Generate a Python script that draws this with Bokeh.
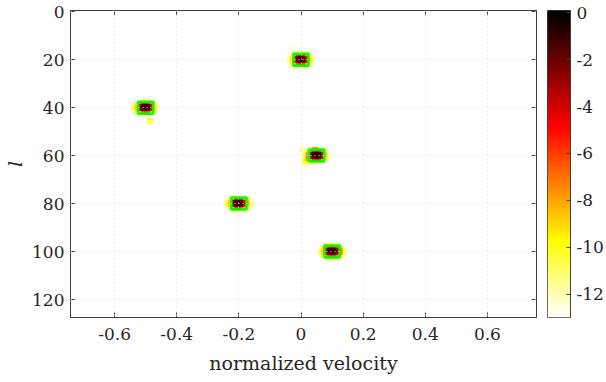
import numpy as np
from bokeh.plotting import figure
from bokeh.layouts import row
from bokeh.models import (Range1d, FixedTicker, LinearAxis, CustomJSTickFormatter, ColumnDataSource,
                          LinearColorMapper)
from bokeh.embed import file_html
from bokeh.resources import INLINE
from bokeh.transform import linear_cmap

# ---------------- data ----------------
dv = 0.01           # velocity bin width
dl = 1              # l bin height
x_ticks = [-0.6, -0.4, -0.2, 0.0, 0.2, 0.4, 0.6]
y_ticks = [0, 20, 40, 60, 80, 100, 120]
cbar_ticks = [-12, -10, -8, -6, -4, -2, 0]
c_low, c_high = -13, 0
c_top = 0.1          # colour-bar axis upper limit

spot_v = [0.0, -0.5, 0.05, -0.2, 0.1]
spot_l = [20, 40, 60, 80, 100]

N = np.nan
# rows: l-3 .. l+3, cols: v-0.04 .. v+0.04
patch_1 = [
    [N, N, -12.0, -11.5, -11.0, -11.5, -12.5, N, N],
    [N, -11.0, -9.0, -6.0, -5.5, -6.0, -9.0, -10.5, N],
    [-12.0, -9.5, -5.0, -2.0, -1.2, -2.0, -5.0, -9.5, -12.0],
    [-11.5, -9.0, -4.5, -1.0, 0.0, -1.0, -4.5, -9.0, -11.5],
    [-12.0, -9.5, -5.0, -2.0, -1.2, -2.0, -5.0, -9.5, -12.0],
    [-12.5, -10.5, -9.0, -6.0, -5.5, -6.0, -9.0, -10.5, N],
    [-12.5, -12.0, -12.0, N, -11.0, -10.5, -11.5, N, N],
]
patch_2 = [
    [N, N, N, -12.0, -11.5, -12.0, N, N, N],
    [N, -10.5, -9.0, -6.5, -6.0, -6.5, -9.0, -11.0, N],
    [-11.0, -9.0, -4.0, -1.8, -1.0, -1.8, -4.5, -9.5, -12.0],
    [-10.5, -8.5, -3.5, -0.8, 0.0, -0.8, -4.0, -9.0, -11.5],
    [-11.0, -9.0, -4.0, -1.8, -1.0, -1.8, -4.5, -9.5, -12.0],
    [-12.0, -10.5, -9.0, -6.5, -6.0, -6.5, -9.0, -11.0, N],
    [N, N, -12.0, -11.5, -11.5, -12.0, N, N, N],
]
patch_3 = [
    [N, N, -12.0, -8.0, -7.5, -11.0, N, N, N],
    [N, -9.5, -8.5, -6.0, -5.5, -6.0, -9.0, -10.5, N],
    [-11.5, -8.0, -3.5, -1.5, -1.0, -1.5, -3.5, -9.0, -12.0],
    [-11.0, -7.5, -3.0, -0.8, 0.0, -0.8, -3.0, -8.5, -11.5],
    [-10.5, -7.5, -3.5, -1.5, -1.0, -1.5, -3.5, -9.0, -12.0],
    [-9.5, -8.0, -8.5, -6.0, -5.5, -6.0, -8.5, -10.5, N],
    [-10.5, -10.0, -11.5, -11.0, -11.0, -11.5, N, N, N],
]
patch_4 = [
    [N, N, N, -12.5, -12.5, -12.5, N, N, N],
    [N, -10.5, -9.0, -6.0, -5.5, -6.5, -9.0, -10.0, N],
    [-11.0, -9.0, -3.0, -1.5, -1.0, -1.8, -4.5, -8.5, -11.5],
    [-10.5, -8.5, -2.5, -0.8, 0.0, -0.8, -4.0, -8.0, -11.0],
    [-11.0, -9.0, -3.0, -1.5, -1.0, -1.8, -4.5, -8.5, -11.5],
    [N, -10.5, -9.0, -6.0, -6.0, -6.5, -9.0, -10.0, N],
    [N, N, -12.0, -11.5, -11.0, -11.5, -12.0, N, N],
]
patch_5 = [
    [N, N, -11.5, -11.0, -10.5, -11.0, -11.5, N, N],
    [N, -10.0, -8.5, -6.0, -5.5, -6.0, -8.0, -9.5, N],
    [-11.5, -9.0, -4.0, -1.5, -1.0, -1.5, -3.5, -7.5, -11.0],
    [-11.0, -8.5, -3.5, -0.8, 0.0, -0.8, -3.0, -7.0, -10.5],
    [-11.5, -9.0, -4.0, -1.5, -1.0, -1.5, -3.5, -7.5, -11.0],
    [N, -10.0, -8.5, -6.0, -5.5, -6.0, -8.0, -9.5, -12.0],
    [N, N, -11.5, -10.5, -10.5, -11.0, -11.5, -12.0, -12.5],
]
patches = [patch_1, patch_2, patch_3, patch_4, patch_5]

# isolated side-lobe cells
extra_v = [-0.49, -0.48, -0.49, -0.48, 0.0, 0.01, 0.0, 0.01, 0.02, -0.03, -0.02]
extra_l = [45, 45, 46, 46, 57, 57, 58, 58, 64, 15, 15]
extra_val = [-9.5, -10.0, -10.5, -11.0, -11.5, -12.0, -11.5, -12.0, -11.5, -12.5, -12.5]

box_w = 0.049       # detection box (velocity extent)
box_h = 5           # detection box (l extent)

# ---------------- colormap (MATLAB 'hot', reversed) ----------------
def hot(m=256):
    n = int(3 / 8 * m)
    r = [min(1.0, (i + 1) / n) for i in range(m)]
    g = [0.0] * n + [(i + 1) / n for i in range(n)] + [1.0] * (m - 2 * n)
    b = [0.0] * (2 * n) + [(i + 1) / (m - 2 * n) for i in range(m - 2 * n)]
    return ["#%02x%02x%02x" % (int(round(rr * 255)), int(round(gg * 255)), int(round(bb * 255)))
            for rr, gg, bb in zip(r, g, b)]

palette = list(reversed(hot(256)))   # white at low end, black at high end

# ---------------- cells ----------------
cv, cl, cval = [], [], []
for sv, sl, pt in zip(spot_v, spot_l, patches):
    for i, rw in enumerate(pt):
        for j, val in enumerate(rw):
            if not np.isnan(val):
                cv.append(sv + (j - 4) * dv)
                cl.append(sl + (i - 3) * dl)
                cval.append(val)
cv += extra_v
cl += extra_l
cval += extra_val
src = ColumnDataSource(dict(v=cv, l=cl, val=cval))

FONT = "DejaVu Serif"
AX = "#404040"
TXT = "#262626"

p = figure(width=547, height=382, output_backend="svg", toolbar_location=None,
           x_range=Range1d(-0.742, 0.758), y_range=Range1d(127.5, -0.5),
           min_border_left=70, min_border_right=11, min_border_top=10, min_border_bottom=65)
p.background_fill_color = "white"
p.border_fill_color = "white"
p.outline_line_color = AX
p.outline_line_width = 1

cmap = linear_cmap("val", palette, c_low, c_high)
p.rect(x="v", y="l", width=dv, height=dl, source=src, fill_color=cmap,
       line_color=cmap, line_width=0.6)

p.rect(x=spot_v, y=spot_l, width=box_w, height=box_h, fill_color=None,
       line_color="#00ff00", line_width=2.5)

# axes
for ax in (p.xaxis[0], p.yaxis[0]):
    ax.major_label_text_font = FONT
    ax.major_label_text_font_size = "17px"
    ax.major_label_text_color = TXT
    ax.axis_label_text_font = FONT
    ax.axis_label_text_font_size = "19px"
    ax.axis_label_text_color = TXT
    ax.axis_label_text_font_style = "normal"
    ax.major_tick_in = 5
    ax.major_tick_out = 0
    ax.minor_tick_line_color = None
    ax.axis_line_color = AX
    ax.major_tick_line_color = AX

p.xaxis[0].ticker = FixedTicker(ticks=x_ticks)
p.yaxis[0].ticker = FixedTicker(ticks=y_ticks)
fmt = CustomJSTickFormatter(code="return Math.abs(tick) < 1e-9 ? '0' : (Number.isInteger(tick) ? tick.toFixed(0) : tick.toFixed(1));")
p.xaxis[0].formatter = fmt
p.yaxis[0].formatter = fmt
p.xaxis[0].axis_label = "normalized velocity"
p.yaxis[0].axis_label = "l"
p.yaxis[0].axis_label_text_font_style = "italic"
p.xaxis[0].major_label_standoff = 10
p.yaxis[0].major_label_standoff = 6
p.xaxis[0].axis_label_standoff = 9
p.yaxis[0].axis_label_standoff = 3

blank = CustomJSTickFormatter(code="return '';")
top_ax = LinearAxis(ticker=FixedTicker(ticks=x_ticks), formatter=blank,
                    major_tick_in=5, major_tick_out=0, major_label_standoff=0,
                    minor_tick_line_color=None, axis_line_color=AX, major_tick_line_color=AX)
right_ax = LinearAxis(ticker=FixedTicker(ticks=y_ticks), formatter=blank,
                      major_tick_in=5, major_tick_out=0, major_label_standoff=0,
                      minor_tick_line_color=None, axis_line_color=AX, major_tick_line_color=AX)
p.add_layout(top_ax, "above")
p.add_layout(right_ax, "right")

# grid on top of the image, dotted light gray
for g in (p.xgrid[0], p.ygrid[0]):
    g.level = "overlay"
    g.grid_line_color = "#d6d6d6"
    g.grid_line_dash = "1 3"
    g.grid_line_width = 1
p.xgrid[0].ticker = FixedTicker(ticks=x_ticks)
p.ygrid[0].ticker = FixedTicker(ticks=y_ticks)

# ---------------- colour bar as its own small figure ----------------
nlev = len(palette)
step = (c_top - c_low) / nlev
lev_centers = np.array([c_low + (k + 0.5) * step for k in range(nlev)]).reshape(nlev, 1)
bar_mapper = LinearColorMapper(palette=palette, low=c_low, high=c_high)

cbf = figure(width=59, height=382, output_backend="svg", toolbar_location=None,
             x_range=Range1d(0, 1), y_range=Range1d(c_low, c_top),
             x_axis_type=None, y_axis_location="right",
             min_border_left=0, min_border_right=34, min_border_top=10, min_border_bottom=65)
cbf.background_fill_color = "white"
cbf.border_fill_color = "white"
cbf.outline_line_color = AX
cbf.outline_line_width = 1
cbf.grid.visible = False
cbf.image(image=[lev_centers], x=0, y=c_low, dw=1, dh=c_top - c_low, color_mapper=bar_mapper)
cax = cbf.yaxis[0]
cax.ticker = FixedTicker(ticks=cbar_ticks)
cax.formatter = CustomJSTickFormatter(code="return tick.toFixed(0);")
cax.major_label_text_font = FONT
cax.major_label_text_font_size = "17px"
cax.major_label_text_color = TXT
cax.major_tick_in = 4
cax.major_tick_out = 0
cax.major_label_standoff = 6
cax.minor_tick_line_color = None
cax.axis_line_color = AX
cax.major_tick_line_color = AX

layout = row(p, cbf)
open("out.html", "w").write(file_html(layout, INLINE))
